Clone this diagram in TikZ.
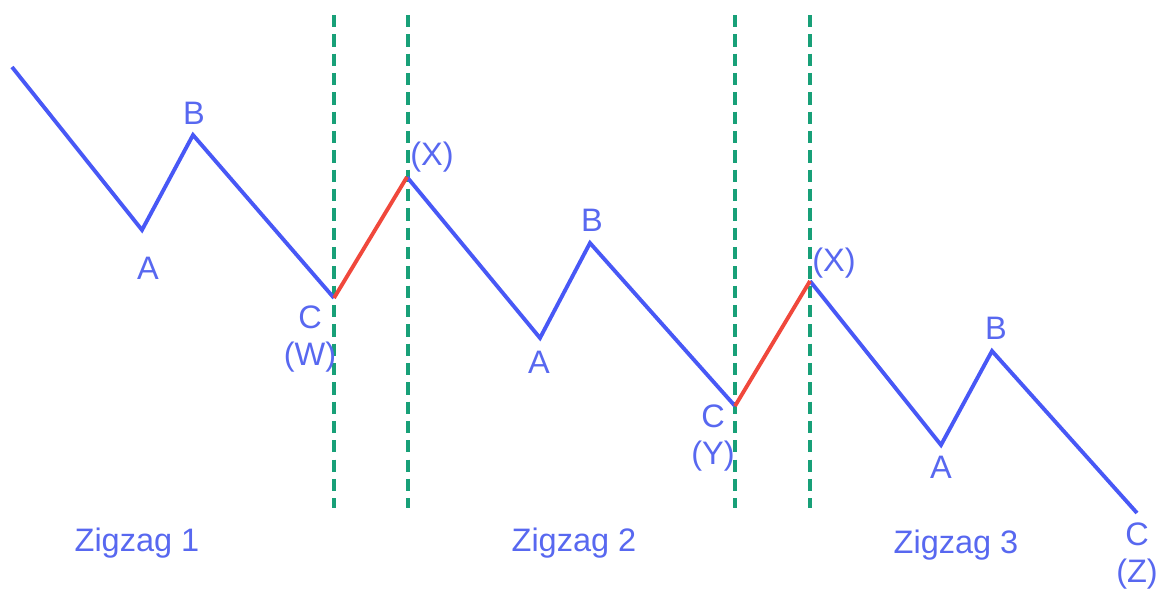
\documentclass[tikz,border=0pt]{standalone}
\usepackage{fontspec}
\setmainfont{Liberation Sans}
\usetikzlibrary{positioning}
\definecolor{wave}{RGB}{72, 88, 246}
\definecolor{wavetext}{RGB}{88, 104, 240}
\definecolor{link}{RGB}{240, 72, 60}
\definecolor{divider}{RGB}{24, 160, 120}
\tikzset{
  impulse/.style={line width=2.2pt, wave, line join=miter},
  connector/.style={line width=2.2pt, link},
  boundary/.style={line width=1.8pt, divider, dash pattern=on 7pt off 4pt},
  wavelabel/.style={font=\fontsize{18.5}{21}\selectfont, text=wavetext, inner sep=1pt, align=center},
  zzlabel/.style={font=\fontsize{18.5}{21}\selectfont, text=wavetext, inner sep=1pt},
}

\begin{document}
\begin{tikzpicture}[x=0.02cm, y=-0.02cm]

  \useasboundingbox (0,0) rectangle (1156,592);

  % ============ WAVE POINTS ============
  \coordinate (s0) at (12, 67);
  \coordinate (a1) at (142, 230);
  \coordinate (b1) at (193, 135);
  \coordinate (w)  at (334, 298);
  \coordinate (x1) at (407, 177);
  \coordinate (a2) at (540, 338);
  \coordinate (b2) at (590, 243);
  \coordinate (y)  at (735, 406);
  \coordinate (x2) at (810, 281);
  \coordinate (a3) at (941, 445);
  \coordinate (b3) at (992, 351);
  \coordinate (z)  at (1137, 513);

  % ============ DIVIDERS ============
  \foreach \xx in {334, 408, 735, 810} {
    \draw[boundary] (\xx, 15) -- (\xx, 508);
  }

  % ============ ZIGZAGS ============
  \draw[impulse] (s0) -- (a1) -- (b1) -- (w);
  \draw[impulse] (x1) -- (a2) -- (b2) -- (y);
  \draw[impulse] (x2) -- (a3) -- (b3) -- (z);

  % X waves
  \draw[connector] (w) -- (x1);
  \draw[connector] (y) -- (x2);

  % ============ LABELS ============
  \node[wavelabel] (la1) at (148, 268) {A};
  \node[wavelabel] (lb1) at (194, 113) {B};
  \node[wavelabel] (lw)  at (310, 339) {C\\(W)};
  \node[wavelabel] (lx1) at (432, 157) {(X)};
  \node[wavelabel] (la2) at (539, 362) {A};
  \node[wavelabel] (lb2) at (592, 220) {B};
  \node[wavelabel] (ly)  at (713, 438) {C\\(Y)};
  \node[wavelabel] (lx2) at (834, 263) {(X)};
  \node[wavelabel] (la3) at (941, 467) {A};
  \node[wavelabel] (lb3) at (996, 328) {B};
  \node[wavelabel] (lz)  at (1137, 556) {C\\(Z)};

  \node[zzlabel] (zz1) at (137, 543) {Zigzag 1};
  \node[zzlabel] (zz2) at (574, 543) {Zigzag 2};
  \node[zzlabel] (zz3) at (956, 545) {Zigzag 3};

\end{tikzpicture}
\end{document}
